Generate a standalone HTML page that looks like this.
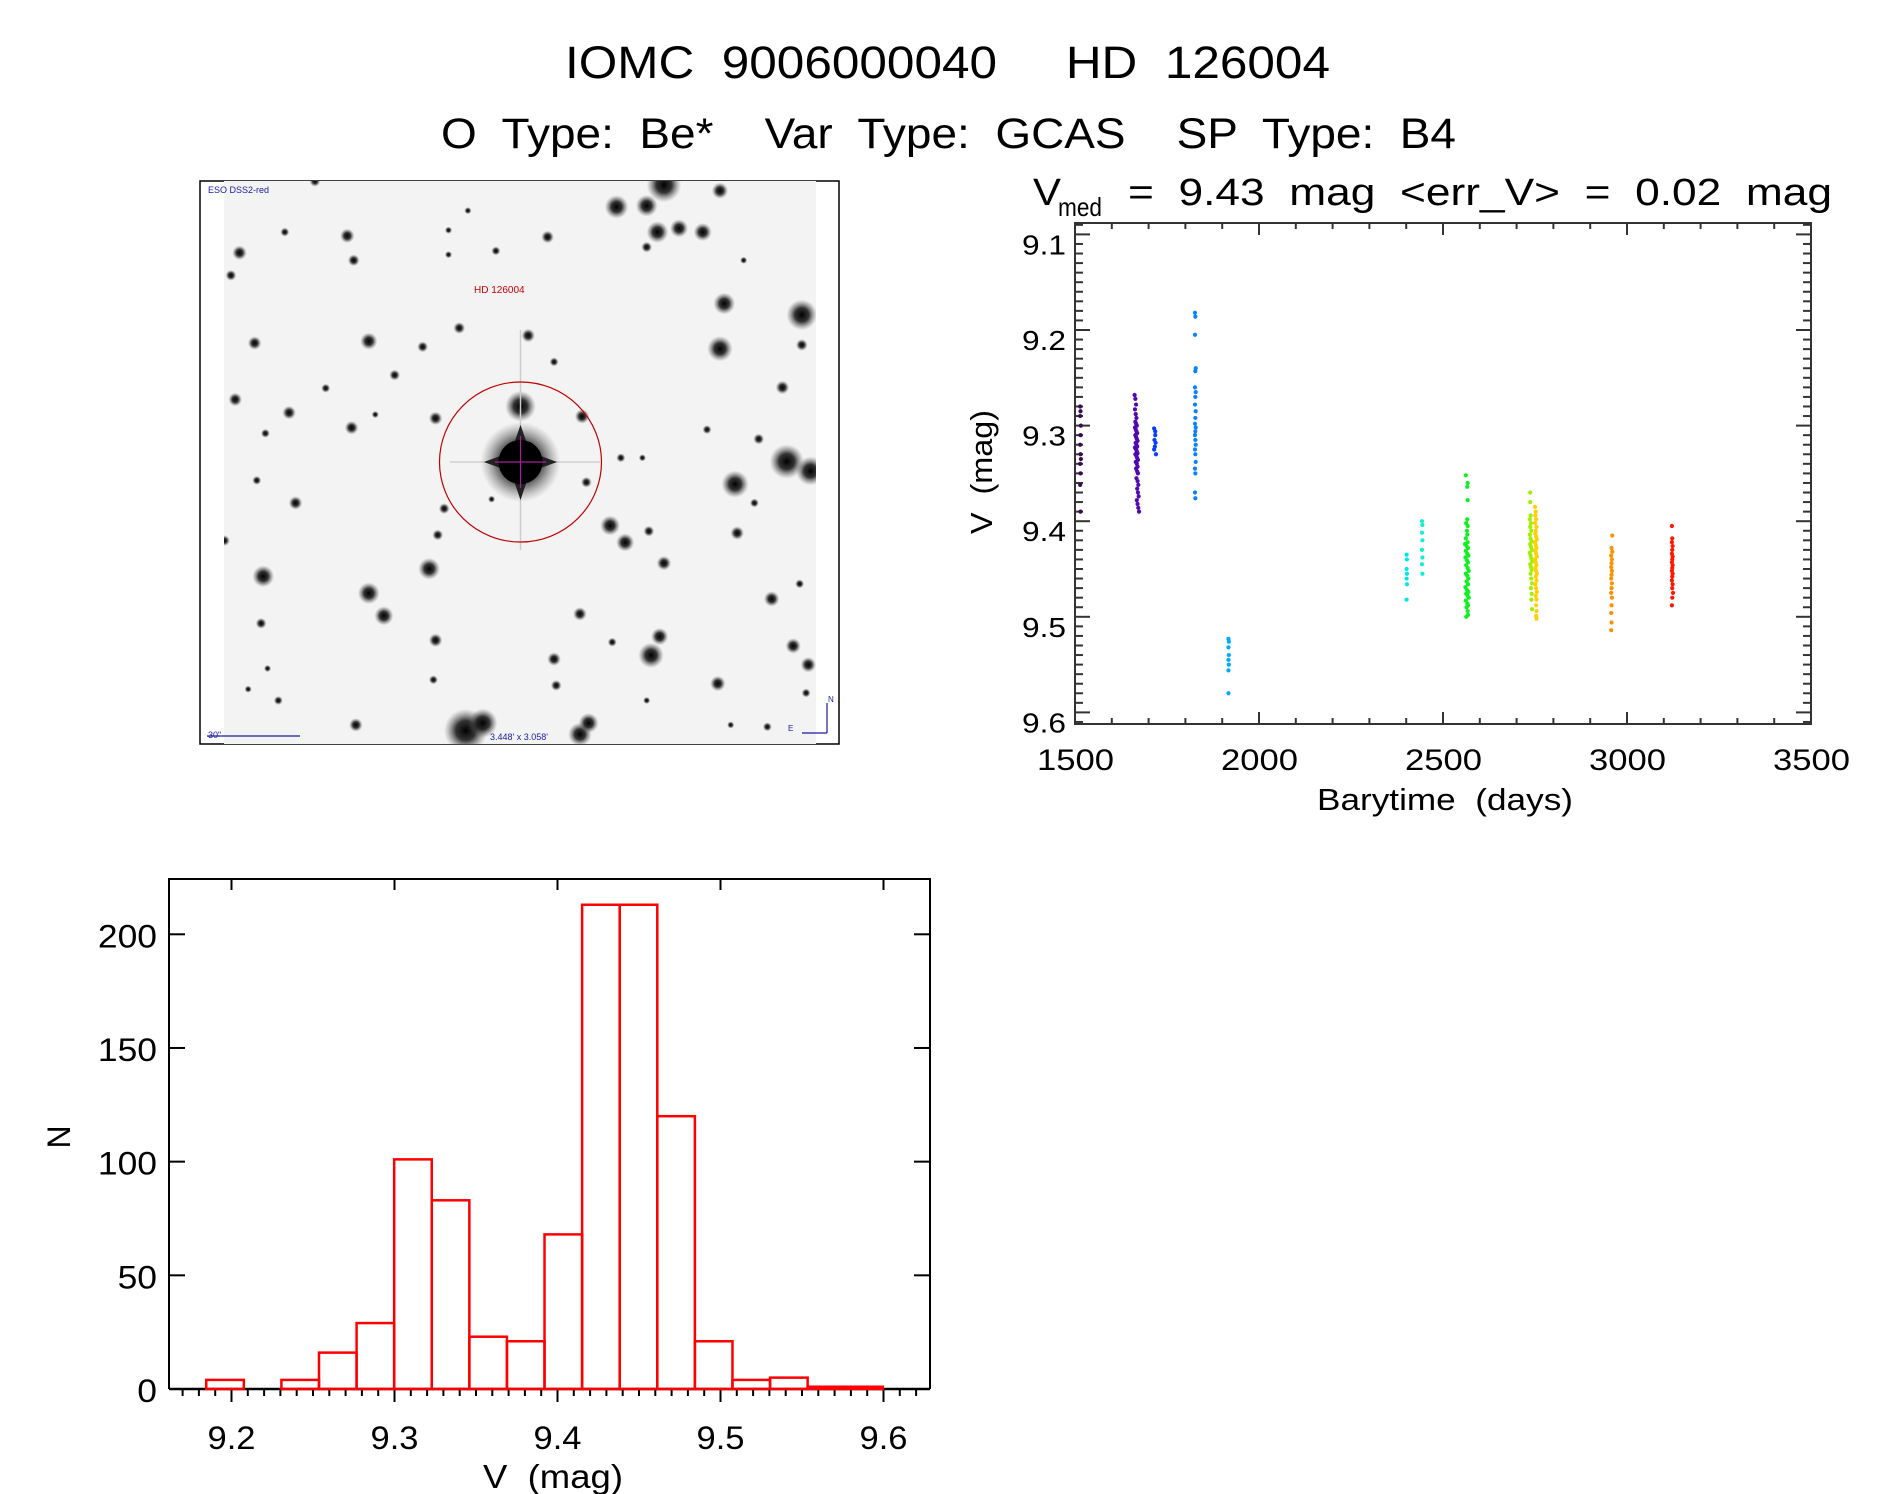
<!DOCTYPE html>
<html><head><meta charset="utf-8"><style>
html,body{margin:0;padding:0;background:#fff;}
svg{display:block;}
text{font-family:"Liberation Sans","DejaVu Sans",sans-serif;fill:#000;white-space:pre;}
</style></head><body>
<svg id="fig" xmlns="http://www.w3.org/2000/svg" width="1889" height="1494" viewBox="0 0 1889 1494" xml:space="preserve">
<defs>
<radialGradient id="star" cx="0.5" cy="0.5" r="0.5">
<stop offset="0" stop-color="#000" stop-opacity="1"/>
<stop offset="0.45" stop-color="#111" stop-opacity="0.85"/>
<stop offset="1" stop-color="#666" stop-opacity="0"/>
</radialGradient>
<clipPath id="imgclip"><rect x="224" y="181" width="592" height="563"/></clipPath>
</defs>
<text x="565" y="78" font-size="45" textLength="765" lengthAdjust="spacingAndGlyphs">IOMC  9006000040     HD  126004</text>
<text x="441" y="148" font-size="43" textLength="1015" lengthAdjust="spacingAndGlyphs">O  Type:  Be*    Var  Type:  GCAS    SP  Type:  B4</text>
<g>
<text x="1033" y="205" font-size="38" textLength="28" lengthAdjust="spacingAndGlyphs">V</text>
<text x="1058" y="216" font-size="26" textLength="44" lengthAdjust="spacingAndGlyphs">med</text>
<text x="1128" y="205" font-size="38" textLength="704" lengthAdjust="spacingAndGlyphs">=  9.43  mag  &lt;err_V&gt;  =  0.02  mag</text>
</g>
<g id="skyimg"></g>
<g id="lc"></g>
<g id="hist"></g>
</svg>
<script>
// ---------- light curve data ----------
const lcColors = ["#3c0a50","#5208b0","#0a3cff","#0a82ff","#00aaff","#00e8e8","#10f0d0","#10f020","#a0f000","#ffd000","#ff9000","#ff1800"];
const lcTimes0 = [1514,1515,1514,1516,1515,1514,1515,1516,1514,1515,1514,1515];
const lcMags0  = [9.280,9.285,9.290,9.300,9.310,9.320,9.330,9.335,9.340,9.350,9.362,9.390];
const lcTimes1 = [1662,1664,1666,1663,1665,1667,1664,1666,1668,1663,1665,1667,1669,1664,1666,1668,1670,1665,1667,1669,1663,1666,1668,1670,1664,1667,1669,1671,1665,1668,1670,1666,1669,1671,1667,1670,1672,1669,1671,1673,1668,1670,1672,1674];
const lcMags1  = [9.268,9.272,9.278,9.283,9.288,9.292,9.296,9.298,9.300,9.302,9.304,9.306,9.308,9.310,9.312,9.314,9.316,9.318,9.320,9.322,9.323,9.325,9.327,9.329,9.330,9.332,9.334,9.336,9.338,9.340,9.343,9.345,9.348,9.350,9.355,9.358,9.362,9.366,9.370,9.374,9.378,9.382,9.386,9.390];
const lcTimes2 = [1715,1718,1716,1719,1717,1715,1720,1718];
const lcMags2  = [9.303,9.310,9.315,9.318,9.322,9.325,9.330,9.306];
const lcTimes3 = [1826,1827,1826,1828,1827,1826,1828,1827,1826,1828,1827,1826,1828,1827,1826,1827,1828,1826,1827,1828,1826,1827,1826,1827];
const lcMags3  = [9.182,9.186,9.205,9.240,9.243,9.260,9.265,9.270,9.278,9.285,9.292,9.298,9.302,9.306,9.310,9.315,9.320,9.325,9.330,9.338,9.345,9.350,9.370,9.376];
const lcTimes4 = [1917,1918,1917,1918,1917,1918,1917,1917];
const lcMags4  = [9.523,9.526,9.532,9.540,9.545,9.550,9.556,9.580];
const lcTimes5 = [2401,2402,2401,2402,2401,2402,2401];
const lcMags5  = [9.435,9.440,9.450,9.455,9.460,9.466,9.482];
const lcTimes6 = [2443,2444,2443,2444,2443,2444,2443,2444];
const lcMags6  = [9.400,9.404,9.412,9.420,9.430,9.438,9.445,9.455];
const lcTimes7 = [2562,2567,2566,2567,2566,2563,2567,2565,2566,2562,2567,2560,2564,2568,2562,2566,2569,2561,2565,2568,2563,2567,2570,2562,2566,2569,2564,2568,2561,2565,2569,2563,2567,2570,2562,2566,2568,2564,2567,2563,2568];
const lcMags7  = [9.352,9.360,9.364,9.378,9.398,9.402,9.405,9.410,9.414,9.418,9.422,9.424,9.426,9.428,9.431,9.434,9.436,9.438,9.441,9.443,9.446,9.449,9.452,9.455,9.457,9.460,9.463,9.466,9.469,9.472,9.474,9.476,9.478,9.480,9.483,9.486,9.488,9.490,9.494,9.500,9.498];
const lcTimes8 = [2737,2737,2738,2736,2739,2737,2740,2736,2738,2741,2737,2739,2742,2736,2738,2740,2743,2737,2739,2741,2738,2740,2742,2739,2741,2740,2742];
const lcMags8  = [9.370,9.380,9.394,9.398,9.402,9.406,9.410,9.414,9.418,9.421,9.424,9.427,9.430,9.433,9.436,9.439,9.442,9.445,9.448,9.451,9.455,9.460,9.465,9.470,9.476,9.482,9.492];
const lcTimes9 = [2750,2752,2751,2753,2750,2754,2752,2751,2753,2755,2750,2752,2754,2751,2753,2755,2750,2752,2754,2751,2753,2755,2752,2754,2751,2753,2755,2752,2754,2753,2754,2753,2754];
const lcMags9  = [9.385,9.390,9.394,9.398,9.402,9.406,9.410,9.413,9.416,9.419,9.422,9.425,9.428,9.431,9.434,9.437,9.440,9.443,9.446,9.449,9.452,9.455,9.458,9.462,9.466,9.470,9.474,9.478,9.482,9.488,9.494,9.499,9.502];
const lcTimes10 = [2960,2958,2960,2957,2959,2958,2957,2959,2958,2957,2959,2958,2957,2959,2958,2957,2958,2957];
const lcMags10  = [9.415,9.428,9.432,9.436,9.440,9.444,9.448,9.452,9.456,9.460,9.465,9.470,9.475,9.480,9.488,9.496,9.506,9.514];
const lcTimes11 = [3122,3123,3122,3124,3123,3122,3124,3123,3122,3124,3123,3122,3124,3123,3122,3124,3123,3125,3123,3122];
const lcMags11  = [9.405,9.418,9.422,9.426,9.430,9.434,9.437,9.440,9.443,9.446,9.449,9.452,9.455,9.458,9.462,9.466,9.470,9.475,9.480,9.488];
const lcXTicks = [1500,2000,2500,3000,3500];
const lcXTickLabels = ["1500","2000","2500","3000","3500"];
const lcYTicks = [9.1,9.2,9.3,9.4,9.5,9.6];
const lcYTickLabels = ["9.1","9.2","9.3","9.4","9.5","9.6"];

// ---------- histogram data ----------
const histStart = 9.1845;
const histBinWidth = 0.02306;
const histCounts = [4,0,4,16,29,101,83,23,21,68,213,213,120,21,4,5,1,1];
const histXTicks = [9.2,9.3,9.4,9.5,9.6];
const histXTickLabels = ["9.2","9.3","9.4","9.5","9.6"];
const histYTicks = [0,50,100,150,200];
const histYTickLabels = ["0","50","100","150","200"];

const NS = "http://www.w3.org/2000/svg";
function mk(tag, parent, attrs){ const e=document.createElementNS(NS,tag); for(const k in attrs) e.setAttribute(k,attrs[k]); parent.appendChild(e); return e; }

// ---------- light curve ----------
(function(){
  const g = document.getElementById('lc');
  const L=1075,R=1811,T=223,B=724;
  const xS = t => L + (t-1500)*(R-L)/2000;
  const yS = v => 234.4 + (v-9.1)*956;
  const ax = '#333';
  const frame = mk('rect', g, {x:L,y:T,width:R-L,height:B-T,fill:'none',stroke:ax,'stroke-width':2});
  
  
  for(let t=1500;t<=3500;t+=100){
    const major = (t%500===0);
    const len = major?12:6;
    const x=xS(t);
    const tb = mk('line', g, {x1:x,y1:B,x2:x,y2:B-len,stroke:ax,'stroke-width':2});
    
    
    const tt = mk('line', g, {x1:x,y1:T,x2:x,y2:T+len,stroke:ax,'stroke-width':2});
    
    
  }
  lcXTicks.forEach((t,i)=>{
    const lb = mk('text', g, {x:xS(t)-38,y:770,'font-size':30,textLength:77,lengthAdjust:'spacingAndGlyphs'});
    lb.textContent = lcXTickLabels[i];
    
    
  });
  for(let k=909;k<=961;k++){
    const v=k/100; const y=yS(v);
    if(y<T||y>B) continue;
    const major = (k%10===0);
    const len = major?15:8;
    const a = mk('line', g, {x1:L,y1:y,x2:L+len,y2:y,stroke:ax,'stroke-width':2});
    
    
    const b = mk('line', g, {x1:R,y1:y,x2:R-len,y2:y,stroke:ax,'stroke-width':2});
    
    
  }
  lcYTicks.forEach((v,i)=>{
    const lb = mk('text', g, {x:1022,y:yS(v)+20,'font-size':28,textLength:44,lengthAdjust:'spacingAndGlyphs'});
    lb.textContent = lcYTickLabels[i];
    
    
  });
  const xt = mk('text', g, {x:1317,y:810,'font-size':31,textLength:256,lengthAdjust:'spacingAndGlyphs'});
  xt.textContent='Barytime  (days)';
  
  
  const yt = mk('text', g, {x:0,y:0,'font-size':31,textLength:124,lengthAdjust:'spacingAndGlyphs',transform:'translate(992,534) rotate(-90)'});
  yt.textContent='V  (mag)';
  
  
  const groups = [[lcTimes0,lcMags0],[lcTimes1,lcMags1],[lcTimes2,lcMags2],[lcTimes3,lcMags3],[lcTimes4,lcMags4],[lcTimes5,lcMags5],[lcTimes6,lcMags6],[lcTimes7,lcMags7],[lcTimes8,lcMags8],[lcTimes9,lcMags9],[lcTimes10,lcMags10],[lcTimes11,lcMags11]];
  groups.forEach((gr,gi)=>{
    const sg = mk('g', g, {fill:lcColors[gi]});
    
    
    gr[0].forEach((t,i)=>{
      const c = mk('circle', sg, {cx:xS(t),cy:yS(gr[1][i]),r:2.1});
      
      
    });
  });
})();

// ---------- histogram ----------
(function(){
  const g = document.getElementById('hist');
  const L=169,R=930,T=879,B=1389;
  const xS = v => 231.5 + (v-9.2)*1630;
  const yS = n => B - n*2.2735;
  const frame = mk('path', g, {d:`M${L} ${B} L${L} ${T} L${R} ${T} L${R} ${B}`,fill:'none',stroke:'#000','stroke-width':2});
  
  
  const base = mk('line', g, {x1:L,y1:B,x2:R,y2:B,stroke:'#000','stroke-width':2.5});
  
  
  for(let k=917;k<=962;k++){
    const v=k/100; const x=xS(v);
    if(x<L||x>R) continue;
    const major=(k%10===0);
    const t = mk('line', g, {x1:x,y1:B,x2:x,y2:B+(major?13:7),stroke:'#000','stroke-width':2});
    
    
    if(major){
      const tt = mk('line', g, {x1:x,y1:T,x2:x,y2:T+11,stroke:'#000','stroke-width':2});
      
      
    }
  }
  histXTicks.forEach((v,i)=>{
    const lb = mk('text', g, {x:xS(v)-24,y:1449,'font-size':32,textLength:48,lengthAdjust:'spacingAndGlyphs'});
    lb.textContent=histXTickLabels[i];
    
    
  });
  histYTicks.forEach((n,i)=>{
    const y=yS(n);
    const a = mk('line', g, {x1:L,y1:y,x2:L+16,y2:y,stroke:'#000','stroke-width':2});
    
    
    const b = mk('line', g, {x1:R,y1:y,x2:R-16,y2:y,stroke:'#000','stroke-width':2});
    
    
    const s = histYTickLabels[i];
    const w = s.length*19.7;
    const lb = mk('text', g, {x:157-w,y:y+13,'font-size':32,textLength:w,lengthAdjust:'spacingAndGlyphs'});
    lb.textContent=s;
    
    
  });
  histCounts.forEach((n,i)=>{
    const x0=xS(histStart+i*histBinWidth), x1=xS(histStart+(i+1)*histBinWidth);
    const r = mk('rect', g, {x:x0,y:yS(n),width:x1-x0,height:B-yS(n),fill:'none',stroke:'#ff0000','stroke-width':2.5});
    
    
  });
  const xt = mk('text', g, {x:483,y:1488,'font-size':33,textLength:140,lengthAdjust:'spacingAndGlyphs'});
  xt.textContent='V  (mag)';
  
  
  const yt = mk('text', g, {x:0,y:0,'font-size':32,transform:'translate(70,1137) rotate(-90)','text-anchor':'middle'});
  yt.textContent='N';
  
  
})();

// ---------- sky image (decorative) ----------
(function(){
  const g = document.getElementById('skyimg');
  const fr = mk('rect', g, {x:200,y:181,width:639,height:563,fill:'#fff',stroke:'#000','stroke-width':1.5});
  
  
  const bg = mk('rect', g, {x:224,y:181,width:592,height:563,fill:'#f3f3f3'});
  
  
  const cg = mk('g', g, {'clip-path':'url(#imgclip)'});
  const stars = [[1100,40,38],[1230,55,18],[990,98,26],[1060,95,24],[1085,165,24],[1135,155,20],[1190,165,20],[1060,205,12],[290,30,12],[365,175,16],[220,165,10],[115,220,16],[380,240,13],[95,280,12],[830,178,14],[710,215,10],[600,160,8],[600,225,8],[645,108,8],[1240,355,24],[1420,385,34],[1230,475,28],[1420,465,13],[1375,578,15],[1285,240,8],[150,460,15],[415,455,19],[785,440,15],[625,420,13],[540,470,12],[475,545,12],[845,510,10],[105,610,15],[230,645,15],[375,685,15],[570,660,15],[315,580,10],[175,700,10],[430,650,8],[910,655,16],[1000,765,10],[1050,765,8],[920,830,12],[1200,690,10],[1320,715,12],[1385,775,38],[1440,800,32],[1265,835,30],[1310,885,10],[975,945,22],[1010,990,20],[1065,960,12],[1100,1045,16],[1270,965,15],[590,900,12],[575,970,12],[700,875,8],[155,825,10],[245,885,15],[80,985,12],[555,1060,24],[170,1080,24],[415,1125,24],[450,1185,21],[165,1205,12],[570,1250,15],[905,1180,15],[1350,1140,17],[1415,1100,10],[1090,1240,19],[1070,1290,28],[845,1300,15],[850,1370,12],[980,1255,10],[565,1355,10],[1225,1365,17],[1400,1265,17],[1435,1315,17],[1430,1390,10],[640,1490,48],[680,1470,32],[905,1500,26],[925,1470,22],[385,1475,15],[1060,1410,8],[135,1380,8],[205,1410,10],[180,1325,8],[1255,1475,8],[1340,1480,10],[767,628,34]];
  stars.forEach(s=>{
    const c = mk('circle', cg, {cx:s[0]/2.321+190,cy:s[1]/2.658+170,r:s[2]/2.2,fill:'url(#star)'});
    
    
  });
  const spk = mk('g', cg, {});
  
  
  mk('line', spk, {x1:520.5,y1:330,x2:520.5,y2:550,stroke:'#ccc','stroke-width':1.5});
  mk('line', spk, {x1:450,y1:462,x2:600,y2:462,stroke:'#d0d0d0','stroke-width':1.5});
  mk('polygon', spk, {points:'520.5,425 530,452 557,462 530,472 520.5,500 511,472 484,462 511,452',fill:'#111'});
  mk('circle', spk, {cx:520.5,cy:462,r:40,fill:'url(#star)'});
  mk('circle', spk, {cx:520.5,cy:462,r:22,fill:'#000'});
  mk('line', spk, {x1:520.5,y1:436,x2:520.5,y2:488,stroke:'#a0209a','stroke-width':1.2});
  mk('line', spk, {x1:495,y1:462,x2:546,y2:462,stroke:'#a0209a','stroke-width':1.2});
  const circ = mk('ellipse', g, {cx:520.5,cy:462,rx:81,ry:80,fill:'none',stroke:'#c00000','stroke-width':1.2});
  
  
  const t1 = mk('text', g, {x:208,y:193,'font-size':9,style:'fill:#1a1aa0'});
  t1.textContent='ESO DSS2-red';
  
  
  const t2 = mk('text', g, {x:474,y:293,'font-size':10,style:'fill:#cc0000'});
  t2.textContent='HD 126004';
  
  
  const t3 = mk('text', g, {x:208,y:738,'font-size':9,style:'fill:#1a1aa0'});
  t3.textContent='30"';
  
  
  const sb = mk('line', g, {x1:207,y1:736,x2:300,y2:736,stroke:'#1a1aa0','stroke-width':1.2});
  
  
  const t4 = mk('text', g, {x:490,y:740,'font-size':9,style:'fill:#1a1aa0'});
  t4.textContent="3.448' x 3.058'";
  
  
  const cmp = mk('g', g, {stroke:'#1a1aa0','stroke-width':1.2,fill:'none'});
  
  
  mk('line', cmp, {x1:827,y1:733,x2:827,y2:703});
  mk('line', cmp, {x1:802,y1:733,x2:827,y2:733});
  const tn = mk('text', g, {x:828,y:702,'font-size':8,style:'fill:#1a1aa0'}); tn.textContent='N';
  
  
  const te = mk('text', g, {x:788,y:731,'font-size':8,style:'fill:#1a1aa0'}); te.textContent='E';
  
  
})();
</script>
</body></html>
